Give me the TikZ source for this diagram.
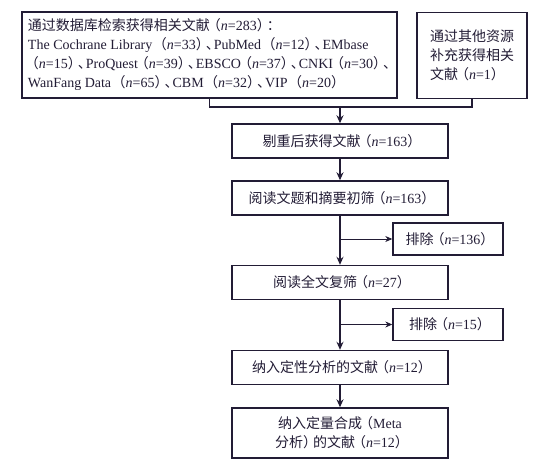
\documentclass[tikz,border=0pt]{standalone}
\usepackage{fontspec}
\setmainfont{Liberation Serif}
\newfontfamily\cjk{Noto Sans CJK SC}
\usetikzlibrary{arrows.meta,positioning}
\definecolor{ink}{HTML}{221C35}
% narrowed CJK punctuation
\newcommand{\lp}{\hbox to 11pt{\hss\cjk （}}
\newcommand{\rp}{\hbox to 10pt{\cjk ）\hss}}
\newcommand{\dun}{\hbox to 8pt{\cjk 、\hss}}
\newcommand{\nn}[1]{\lp\textit{n}=#1\rp}
\tikzset{
  box/.style={draw=ink,line width=1.4pt,text=ink,minimum width=216pt,minimum height=34pt,inner sep=3pt,align=center},
  flow/.style={draw=ink,line width=1.4pt,-{Stealth[length=8pt,width=7pt]}},
  side/.style={draw=ink,line width=0.7pt,-{Stealth[length=7pt,width=6pt]}}
}
\begin{document}
\begin{tikzpicture}[x=1pt,y=-1pt,font=\fontsize{14}{19}\selectfont]
  \useasboundingbox (0,0) rectangle (558,463);
  % sources
  \node[box,minimum width=375pt,minimum height=86pt,align=left] (search) at (209.5,55)
    {{\cjk 通过数据库检索获得相关文献}\nn{283}{\cjk ：}\\
     The Cochrane Library \nn{33}\dun PubMed \nn{12}\dun EMbase\\
     \nn{15}\dun ProQuest\nn{39}\dun EBSCO\nn{37}\dun CNKI\nn{30}\dun\\
     WanFang Data \nn{65}\dun CBM \nn{32}\dun VIP \nn{20}};
  \node[box,minimum width=110pt,minimum height=86pt,align=left] (other) at (472,55.5)
    {{\cjk 通过其他资源}\\{\cjk 补充获得相关}\\{\cjk 文献}\nn{1}};
  % main column
  \node[box] (dedup) at (340,141) {{\cjk 剔重后获得文献}\nn{163}};
  \node[box] (screen) at (340,198) {{\cjk 阅读文题和摘要初筛}\nn{163}};
  \node[box] (full) at (340,282.5) {{\cjk 阅读全文复筛}\nn{27}};
  \node[box] (qual) at (340,367.5) {{\cjk 纳入定性分析的文献}\nn{12}};
  \node[box,minimum height=50pt] (quant) at (340,433)
    {{\cjk 纳入定量合成}\lp Meta\\{\cjk 分析}\rp{\cjk 的文献}\nn{12}};
  % exclusions
  \node[box,minimum width=110pt,minimum height=32pt] (excla) at (448,239) {{\cjk 排除}\nn{136}};
  \node[box,minimum width=110pt,minimum height=32pt] (exclb) at (448,324.5) {{\cjk 排除}\nn{15}};
  % connectors
  \coordinate (join) at (340,107);
  \draw[draw=ink,line width=1.4pt] (search.south) |- (join) -| (other.south);
  \draw[flow] (join) -- (dedup);
  \draw[flow] (dedup) -- (screen);
  \draw[flow] (screen) -- (full);
  \draw[flow] (full) -- (qual);
  \draw[flow] (qual) -- (quant);
  \coordinate (taka) at (excla.west -| screen.south);
  \coordinate (takb) at (exclb.west -| full.south);
  \draw[side] (taka) -- (excla);
  \draw[side] (takb) -- (exclb);
\end{tikzpicture}
\end{document}
